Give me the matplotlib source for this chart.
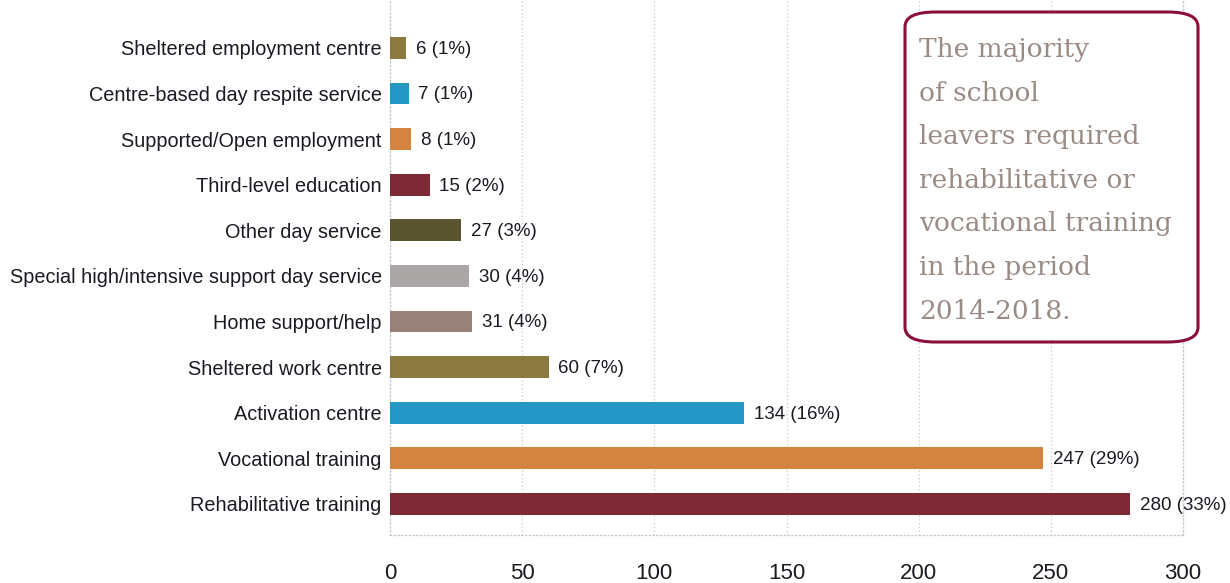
import matplotlib
matplotlib.use("Agg")
import matplotlib.pyplot as plt
from matplotlib.patches import FancyBboxPatch

# data, top to bottom as shown
categories = ["Sheltered employment centre", "Centre-based day respite service",
              "Supported/Open employment", "Third-level education", "Other day service",
              "Special high/intensive support day service", "Home support/help",
              "Sheltered work centre", "Activation centre", "Vocational training",
              "Rehabilitative training"]
counts = [6, 7, 8, 15, 27, 30, 31, 60, 134, 247, 280]
percents = [1, 1, 1, 2, 3, 4, 4, 7, 16, 29, 33]
colors = ["#8a7a40", "#2398c6", "#d4843f", "#7d2a36", "#5a5431", "#aba7a6",
          "#988179", "#8a7a40", "#2398c6", "#d4843f", "#7d2a36"]
xticks = [0, 50, 100, 150, 200, 250, 300]
note = "The majority\nof school\nleavers required\nrehabilitative or\nvocational training\nin the period\n2014-2018."

plt.rcParams['font.family'] = ['Liberation Sans', 'DejaVu Sans']

fig = plt.figure(figsize=(12.3, 5.83), dpi=100)
ax = fig.add_axes([390/1230, 48/583, 793/1230, 535/583])

n = len(categories)
ypos = [n - 1 - i for i in range(n)]
ax.barh(ypos, counts, height=0.48, color=colors, zorder=3)
for y, c, p in zip(ypos, counts, percents):
    ax.annotate(f"{c} ({p}%)", (c, y), xytext=(7, -1), textcoords="offset points",
                va="center", ha="left", fontsize=13.5, color="#1a1a22")

ax.set_yticks(ypos)
ax.set_yticklabels(categories, fontsize=14.3, color="#1a1a22")
ax.set_xticks(xticks)
ax.set_xticklabels([str(t) for t in xticks], fontsize=16, color="#1a1a22")
ax.set_xlim(0, 300)
ax.set_ylim(-0.68, n - 1 + 1.05)
ax.tick_params(axis="both", length=0)
ax.tick_params(axis="x", pad=20)
ax.tick_params(axis="y", pad=6)

ax.grid(axis="x", linestyle=(0, (1, 2)), color="#c8c8c8", linewidth=0.9, zorder=0)
for side in ["left", "bottom", "right"]:
    ax.spines[side].set_linestyle((0, (1, 2)))
    ax.spines[side].set_color("#c8c8c8")
    ax.spines[side].set_linewidth(0.9)
ax.spines["top"].set_visible(False)

# callout box
box = FancyBboxPatch((905/1230, 1 - 342/583), 293/1230, 330/583,
                     boxstyle="round,pad=0,rounding_size=0.025",
                     transform=fig.transFigure, facecolor="white",
                     edgecolor="#8c0f35", linewidth=2.2, zorder=5)
fig.patches.append(box)
fig.text(919/1230, 1 - 37/583, note, ha="left", va="top", fontsize=19,
         family="DejaVu Serif", color="#9a8a84", linespacing=1.93, zorder=6)

fig.savefig("out.png", dpi=100)
